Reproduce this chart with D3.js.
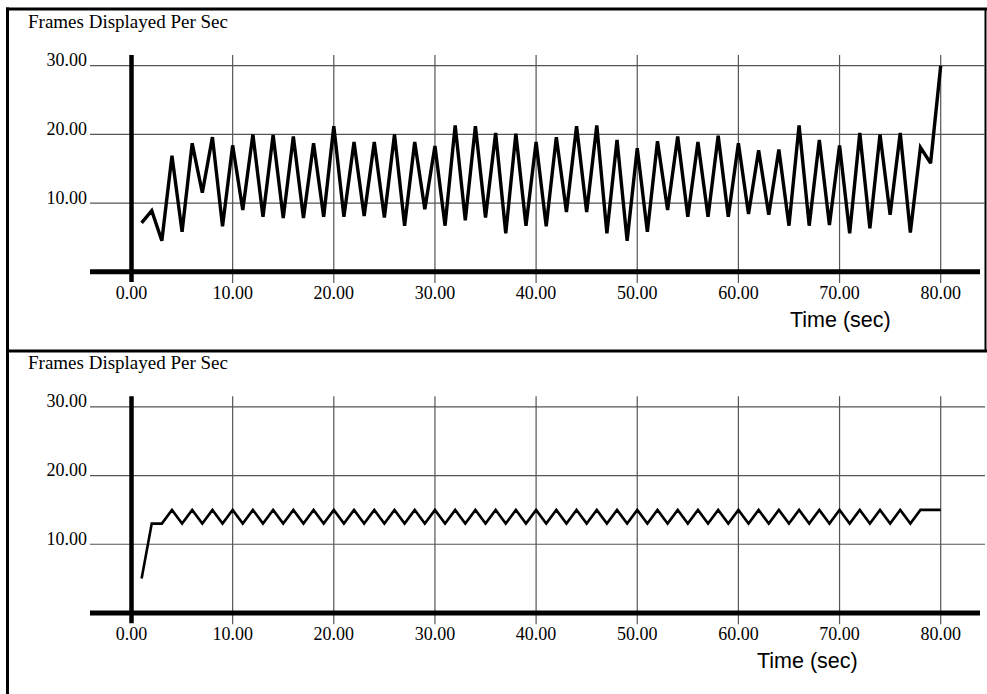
<!DOCTYPE html>
<html>
<head>
<meta charset="utf-8">
<script src="https://cdn.jsdelivr.net/npm/d3@7/dist/d3.min.js"></script>
<style>
  html, body { margin: 0; padding: 0; background: #fff; }
  svg { display: block; }
</style>
</head>
<body>
<svg id="chart" width="987" height="694"></svg>
<script>
// ---- data ----
const seconds = [1,2,3,4,5,6,7,8,9,10,11,12,13,14,15,16,17,18,19,20,
  21,22,23,24,25,26,27,28,29,30,31,32,33,34,35,36,37,38,39,40,
  41,42,43,44,45,46,47,48,49,50,51,52,53,54,55,56,57,58,59,60,
  61,62,63,64,65,66,67,68,69,70,71,72,73,74,75,76,77,78,79,80];

const fpsTop = [7.1,8.9,4.5,16.9,5.8,18.7,11.5,19.6,6.6,18.4,
  9.0,20.0,8.0,19.9,7.8,19.7,7.8,18.7,8.0,21.2,
  8.0,18.9,8.1,18.9,7.9,20.0,6.7,18.9,9.1,18.3,
  6.7,21.3,7.5,21.2,7.9,20.2,5.6,20.1,6.7,18.9,
  6.6,19.6,8.7,21.2,8.7,21.3,5.6,19.2,4.5,18.0,
  5.8,19.0,9.0,19.7,8.0,18.9,8.0,19.8,8.0,18.7,
  8.4,17.7,8.3,17.8,6.7,21.3,6.7,19.2,6.8,18.4,
  5.6,20.2,6.3,20.0,8.3,20.2,5.7,18.1,15.8,30.0];

const fpsBottom = [5,13,13,15,13,15,13,15,13,15,
  13,15,13,15,13,15,13,15,13,15,
  13,15,13,15,13,15,13,15,13,15,
  13,15,13,15,13,15,13,15,13,15,
  13,15,13,15,13,15,13,15,13,15,
  13,15,13,15,13,15,13,15,13,15,
  13,15,13,15,13,15,13,15,13,15,
  13,15,13,15,13,15,13,15,15,15];

const xTicks = [0,10,20,30,40,50,60,70,80];
const yTicks = [10,20,30];
const yTitle = "Frames Displayed Per Sec";
const xTitle = "Time (sec)";

// ---- layout ----
const svg = d3.select("#chart");
const serif = "'Liberation Serif','Times New Roman',serif";
const sans = "'Liberation Sans',Arial,Helvetica,sans-serif";

const panels = [
  { off: 0,     values: fpsTop,    lw: 3.4, xLabelX: 790 },
  { off: 341.2, values: fpsBottom, lw: 2.6, xLabelX: 757 }
];

const x = d3.scaleLinear().domain([0, 80]).range([131.5, 940.7]);

// borders
svg.append("line").attr("x1", 6).attr("x2", 987).attr("y1", 9).attr("y2", 9)
  .attr("stroke", "#000").attr("stroke-width", 3);
svg.append("line").attr("x1", 7.5).attr("x2", 7.5).attr("y1", 7.5).attr("y2", 694)
  .attr("stroke", "#000").attr("stroke-width", 3);
svg.append("line").attr("x1", 6).attr("x2", 987).attr("y1", 351).attr("y2", 351)
  .attr("stroke", "#000").attr("stroke-width", 3);
svg.append("line").attr("x1", 985.5).attr("x2", 985.5).attr("y1", 8).attr("y2", 352)
  .attr("stroke", "#000").attr("stroke-width", 2);

panels.forEach(p => {
  const g = svg.append("g").attr("transform", `translate(0,${p.off})`);
  const y = d3.scaleLinear().domain([0, 30]).range([271.7, 65.7]);

  // title
  g.append("text").attr("x", 28).attr("y", 28)
    .attr("font-family", serif).attr("font-size", 18).attr("fill", "#000")
    .attr("textLength", 200).attr("lengthAdjust", "spacingAndGlyphs")
    .text(yTitle);

  // horizontal gridlines
  g.selectAll(".hg").data(yTicks).enter().append("line")
    .attr("x1", 90).attr("x2", 985)
    .attr("y1", d => y(d)).attr("y2", d => y(d))
    .attr("stroke", "#555").attr("stroke-width", 1.2);

  // vertical gridlines (extend below axis as ticks)
  g.selectAll(".vg").data(xTicks.filter(d => d > 0)).enter().append("line")
    .attr("x1", d => x(d)).attr("x2", d => x(d))
    .attr("y1", 55).attr("y2", 283)
    .attr("stroke", "#555").attr("stroke-width", 1.2);

  // y tick labels
  g.selectAll(".yl").data(yTicks).enter().append("text")
    .attr("x", 87).attr("y", d => y(d) + 0.5)
    .attr("text-anchor", "end")
    .attr("font-family", serif).attr("font-size", 18).attr("fill", "#000")
    .text(d => d3.format(".2f")(d));

  // x tick labels
  g.selectAll(".xl").data(xTicks).enter().append("text")
    .attr("x", d => x(d)).attr("y", 298.5)
    .attr("text-anchor", "middle")
    .attr("font-family", serif).attr("font-size", 18).attr("fill", "#000")
    .text(d => d3.format(".2f")(d));

  // axes (thick)
  g.append("line").attr("x1", 90).attr("x2", 980)
    .attr("y1", y(0)).attr("y2", y(0))
    .attr("stroke", "#000").attr("stroke-width", 5);
  g.append("line").attr("x1", x(0)).attr("x2", x(0))
    .attr("y1", 55).attr("y2", 282)
    .attr("stroke", "#000").attr("stroke-width", 4.5);

  // x axis title
  g.append("text").attr("x", p.xLabelX).attr("y", 327)
    .attr("font-family", sans).attr("font-size", 21.5).attr("fill", "#000")
    .text(xTitle);

  // data line
  const line = d3.line().x((d, i) => x(seconds[i])).y(d => y(d));
  g.append("path").datum(p.values)
    .attr("d", line)
    .attr("fill", "none").attr("stroke", "#000")
    .attr("stroke-width", p.lw).attr("stroke-linejoin", "miter")
    .attr("stroke-miterlimit", 3);
});
</script>
</body>
</html>
